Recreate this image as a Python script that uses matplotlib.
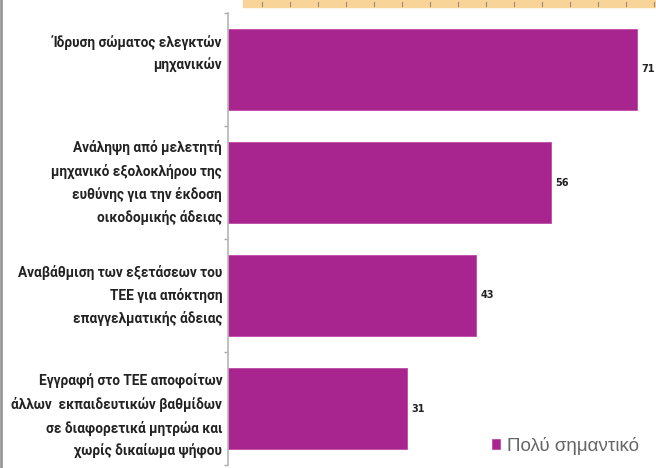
import matplotlib.pyplot as plt
from matplotlib.patches import Rectangle

labels = ["Ίδρυση σώματος ελεγκτών\nμηχανικών",
          "Ανάληψη από μελετητή\nμηχανικό εξολοκλήρου της\nευθύνης για την έκδοση\nοικοδομικής άδειας",
          "Αναβάθμιση των εξετάσεων του\nΤΕΕ για απόκτηση\nεπαγγελματικής άδειας",
          "Εγγραφή στο ΤΕΕ αποφοίτων\nάλλων  εκπαιδευτικών βαθμίδων\nσε διαφορετικά μητρώα και\nχωρίς δικαίωμα ψήφου"]
values = [71, 56, 43, 31]
series_name = "Πολύ σημαντικό"

# label vertical offsets (category units), the scan isn't perfectly centred
label_dy = [-0.14, 0.0, 0.0, 0.07]

purple = "#a8248e"

fig = plt.figure(figsize=(6.56, 4.68), dpi=100)

# orange strip from the chart above + grey margin line
fig.patches.append(Rectangle((243/656, 1-7/468), 1, 7/468, transform=fig.transFigure,
                             color="#f8d499", zorder=0))
for x in range(262, 656, 28):
    fig.lines.append(plt.Line2D([x/656, x/656], [1-6/468, 1-2/468], transform=fig.transFigure,
                                color="#9a8a70", lw=0.8))
fig.lines.append(plt.Line2D([1/656, 1/656], [0, 1], transform=fig.transFigure, color="#999999", lw=2))

ax = fig.add_axes([228/656, 3/468, 428/656, 452/468])
pos = list(range(len(values)))
bars = ax.barh(pos, values, height=0.71, color=purple, edgecolor="#c04aa8", linewidth=0.6)
ax.set_xlim(0, 428/5.76)
ax.set_ylim(3.5, -0.5)

for p, v in zip(pos, values):
    ax.text(v + 0.8, p, str(v), va='center', ha='left', fontsize=7,
            fontweight='bold', color="#222222", family='DejaVu Sans')

for p, lab, dy in zip(pos, labels, label_dy):
    ax.text(-1.0, p + dy, lab, ha='right', va='center', fontsize=9.8, fontweight='bold',
            color="#222222", linespacing=1.68, family=['Roboto', 'DejaVu Sans'])

ax.set_yticks([-0.5, 0.5, 1.5, 2.5, 3.5])
ax.set_yticklabels([])
ax.tick_params(axis='y', length=3, color="#aaaaaa", width=1)
ax.set_xticks([])
for s in ['top', 'right', 'bottom']:
    ax.spines[s].set_visible(False)
ax.spines['left'].set_color("#b5b5b5")
ax.spines['left'].set_linewidth(1.2)

ax.legend([bars[0]], [series_name], loc='lower right', bbox_to_anchor=(1.0, -0.015),
          frameon=False, prop={'family': 'Liberation Sans', 'size': 13.5},
          handlelength=0.42, handleheight=0.42, handletextpad=0.4, labelcolor="#666666")

fig.savefig("out.png", dpi=100)
